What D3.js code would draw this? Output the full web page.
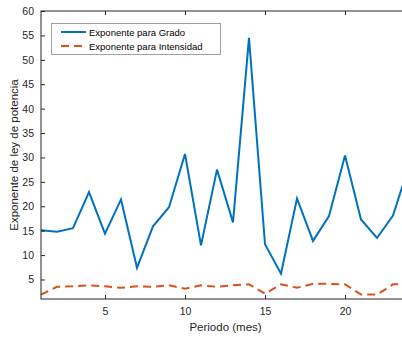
<!DOCTYPE html>
<html>
<head>
<meta charset="utf-8">
<script src="https://cdn.jsdelivr.net/npm/d3@7"></script>
<style>
  html, body { margin: 0; padding: 0; background: #fff; }
  svg { display: block; font-family: "Liberation Sans", Arial, Helvetica, sans-serif; }
</style>
</head>
<body>
<svg id="chart" width="402" height="337"></svg>
<script>
// Monthly power-law exponents
const periods = d3.range(1, 25);
const gradoValues = [15.1, 14.8, 15.5, 22.9, 14.4, 21.4, 7.4, 15.9, 19.8, 30.7, 12.0, 27.5,
                     16.7, 54.5, 12.2, 6.2, 21.6, 12.9, 18.0, 30.4, 17.3, 13.5, 18.1, 28.3];
const intensidadValues = [1.9, 3.5, 3.6, 3.8, 3.6, 3.3, 3.6, 3.5, 3.8, 3.1, 3.8, 3.5,
                          3.8, 4.0, 2.1, 4.0, 3.3, 4.1, 4.1, 4.0, 1.9, 1.9, 4.0, 4.1];
const xTicks = [5, 10, 15, 20];
const yTicks = [5, 10, 15, 20, 25, 30, 35, 40, 45, 50, 55, 60];
const seriesNames = ["Exponente para Grado", "Exponente para Intensidad"];
const xLabel = "Periodo (mes)";
const yLabel = "Exponente de ley de potencia";

const svg = d3.select("#chart");
const plotLeft = 41, plotTop = 11, plotRight = 409, plotBottom = 299;

const x = d3.scaleLinear().domain([1, 24]).range([plotLeft, plotRight]);
const y = d3.scaleLinear().domain([1, 60]).range([plotBottom, plotTop]);

const axisColor = "#262626";

// data lines (clipped to the plot box)
svg.append("clipPath").attr("id", "plot")
  .append("rect").attr("x", plotLeft).attr("y", plotTop)
  .attr("width", plotRight - plotLeft).attr("height", plotBottom - plotTop);

const line = d3.line().x((d, i) => x(periods[i])).y(d => y(d));

const g = svg.append("g").attr("clip-path", "url(#plot)");
g.append("path").datum(gradoValues)
  .attr("d", line).attr("fill", "none")
  .attr("stroke", "#0072BD").attr("stroke-width", 2).attr("stroke-linejoin", "miter");
g.append("path").datum(intensidadValues)
  .attr("d", line).attr("fill", "none")
  .attr("stroke", "#D95319").attr("stroke-width", 2).attr("stroke-dasharray", "8,5");

// axes with inward ticks
const tickStyle = sel => {
  sel.select(".domain").remove();
  sel.selectAll(".tick line").attr("stroke", axisColor);
  sel.selectAll(".tick text").attr("fill", axisColor).attr("font-size", 10.5)
    .attr("font-family", "Liberation Sans, Arial, sans-serif");
};

svg.append("g").attr("transform", `translate(0,${plotBottom})`)
  .call(d3.axisBottom(x).tickValues(xTicks).tickSizeInner(-4).tickPadding(9))
  .call(tickStyle);
svg.append("g").attr("transform", `translate(0,${plotTop})`)
  .call(d3.axisTop(x).tickValues(xTicks).tickSizeInner(-4).tickFormat(""))
  .call(tickStyle);
svg.append("g").attr("transform", `translate(${plotLeft},0)`)
  .call(d3.axisLeft(y).tickValues(yTicks).tickSizeInner(-4).tickPadding(7))
  .call(tickStyle);

// frame
svg.append("rect").attr("x", plotLeft).attr("y", plotTop)
  .attr("width", plotRight - plotLeft).attr("height", plotBottom - plotTop)
  .attr("fill", "none").attr("stroke", axisColor).attr("stroke-width", 1);

// axis titles
svg.append("text").attr("x", (plotLeft + 402) / 2 + 4).attr("y", 331)
  .attr("text-anchor", "middle").attr("font-size", 11.5).attr("fill", axisColor)
  .text(xLabel);
svg.append("text")
  .attr("transform", `translate(18,${(plotTop + plotBottom) / 2}) rotate(-90)`)
  .attr("text-anchor", "middle").attr("font-size", 11.5).attr("fill", axisColor)
  .text(yLabel);

// legend
const legend = svg.append("g");
legend.append("rect").attr("x", 51.5).attr("y", 23.5).attr("width", 169).attr("height", 31)
  .attr("fill", "#fff").attr("stroke", "#a0a0a0").attr("stroke-width", 1);
const legendItems = [
  { name: seriesNames[0], color: "#0072BD", dash: null },
  { name: seriesNames[1], color: "#D95319", dash: "8,5" }
];
legendItems.forEach((item, i) => {
  const ly = 32 + i * 14;
  legend.append("line").attr("x1", 61).attr("x2", 86).attr("y1", ly).attr("y2", ly)
    .attr("stroke", item.color).attr("stroke-width", 2)
    .attr("stroke-dasharray", item.dash);
  legend.append("text").attr("x", 89).attr("y", ly + 3.5)
    .attr("font-size", 9.5).attr("fill", "#000").text(item.name);
});
</script>
</body>
</html>
